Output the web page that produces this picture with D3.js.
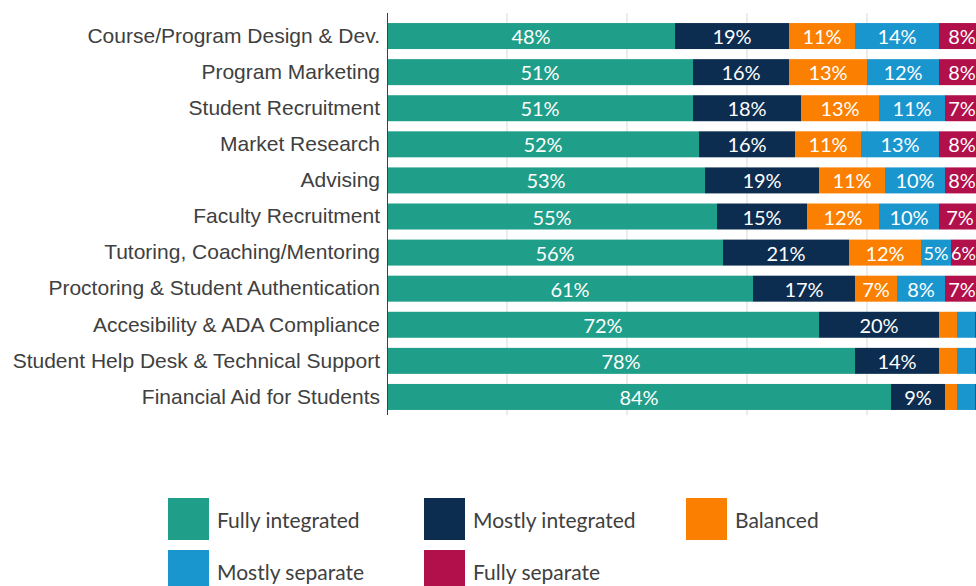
<!DOCTYPE html>
<html>
<head>
<meta charset="utf-8">
<script src="https://cdn.jsdelivr.net/npm/d3@7"></script>
<style>
  body { margin: 0; background: #fff; }
  svg { display: block; font-family: Lato, "Open Sans", sans-serif; }
  .cat { fill: #404040; font-size: 21px; }
  .val { fill: #fff; font-size: 20px; }
  .val.narrow { font-size: 18px; }
  .leg { fill: #404040; font-size: 21px; }
</style>
</head>
<body>
<svg id="chart" width="976" height="586"></svg>
<script>
const svg = d3.select("#chart");
const width = +svg.attr("width");

// категории сверху вниз
const categories = [
    "Course/Program Design & Dev.",
    "Program Marketing",
    "Student Recruitment",
    "Market Research",
    "Advising",
    "Faculty Recruitment",
    "Tutoring, Coaching/Mentoring",
    "Proctoring & Student Authentication",
    "Accesibility & ADA Compliance",
    "Student Help Desk & Technical Support",
    "Financial Aid for Students"
];
const seriesNames = ["Fully integrated", "Mostly integrated", "Balanced", "Mostly separate", "Fully separate"];
const fullyIntegrated  = [48, 51, 51, 52, 53, 55, 56, 61, 72, 78, 84];
const mostlyIntegrated = [19, 16, 18, 16, 19, 15, 21, 17, 20, 14, 9];
const balanced         = [11, 13, 13, 11, 11, 12, 12, 7, 3, 3, 2];
const mostlySeparate   = [14, 12, 11, 13, 10, 10, 5, 8, 3, 3, 3];
const fullySeparate    = [8, 8, 7, 8, 8, 7, 6, 7, 2, 2, 2];
const colors = ["#1f9e89", "#0c2d50", "#fb7f00", "#1a96cf", "#b1104b"];
const xTicks = [0, 20, 40, 60, 80, 100];

const seriesValues = [fullyIntegrated, mostlyIntegrated, balanced, mostlySeparate, fullySeparate];
const rows = categories.map((c, i) => {
    const r = { cat: c };
    seriesNames.forEach((s, k) => r[s] = seriesValues[k][i]);
    return r;
});
const stacked = d3.stack().keys(seriesNames)(rows);

const x = d3.scaleLinear().domain([0, 100]).range([387, 987]);
const y = d3.scaleBand().domain(categories).range([18, 415]).paddingInner(0.28).paddingOuter(0.14);

// сетка
svg.append("g").selectAll("line")
    .data(xTicks.slice(1))
    .join("line")
    .attr("x1", d => x(d)).attr("x2", d => x(d))
    .attr("y1", 13).attr("y2", 415)
    .attr("stroke", "#d9d9d9").attr("stroke-width", 1);

// сегменты
const layers = svg.append("g").selectAll("g")
    .data(stacked)
    .join("g")
    .attr("fill", (d, i) => colors[i]);

layers.selectAll("rect")
    .data(d => d)
    .join("rect")
    .attr("x", d => x(d[0]))
    .attr("y", d => y(d.data.cat))
    .attr("width", d => x(d[1]) - x(d[0]))
    .attr("height", y.bandwidth());

// подписи значений (прижимаем к правому краю, если выходят за него)
layers.selectAll("text")
    .data(d => d.filter(p => p[1] - p[0] >= 5))
    .join("text")
    .attr("class", d => (d[1] - d[0]) < 7 ? "val narrow" : "val")
    .attr("x", d => Math.max(Math.min((x(d[0]) + x(d[1])) / 2, width - 14), x(d[0]) + 12.5))
    .attr("y", d => y(d.data.cat) + y.bandwidth() / 2)
    .attr("text-anchor", "middle")
    .attr("dominant-baseline", "central")
    .text(d => (d[1] - d[0]) + "%");

// ось категорий
const yAxis = svg.append("g")
    .attr("transform", `translate(${x(0)},0)`)
    .call(d3.axisLeft(y).tickSize(0).tickPadding(7));
yAxis.select(".domain").attr("stroke", "#404040").attr("d", "M0.5,13V415");
yAxis.selectAll("text").attr("class", "cat").attr("font-family", null).attr("font-size", null).attr("fill", null);

// легенда
const legendPos = [[168, 498], [424, 498], [686, 498], [168, 550], [424, 550]];
const legend = svg.append("g").selectAll("g")
    .data(seriesNames)
    .join("g")
    .attr("transform", (d, i) => `translate(${legendPos[i][0]},${legendPos[i][1]})`);
legend.append("rect")
    .attr("width", 41).attr("height", 42)
    .attr("fill", (d, i) => colors[i]);
legend.append("text")
    .attr("class", "leg")
    .attr("x", 49).attr("y", 21)
    .attr("dominant-baseline", "central")
    .text(d => d);
</script>
</body>
</html>
